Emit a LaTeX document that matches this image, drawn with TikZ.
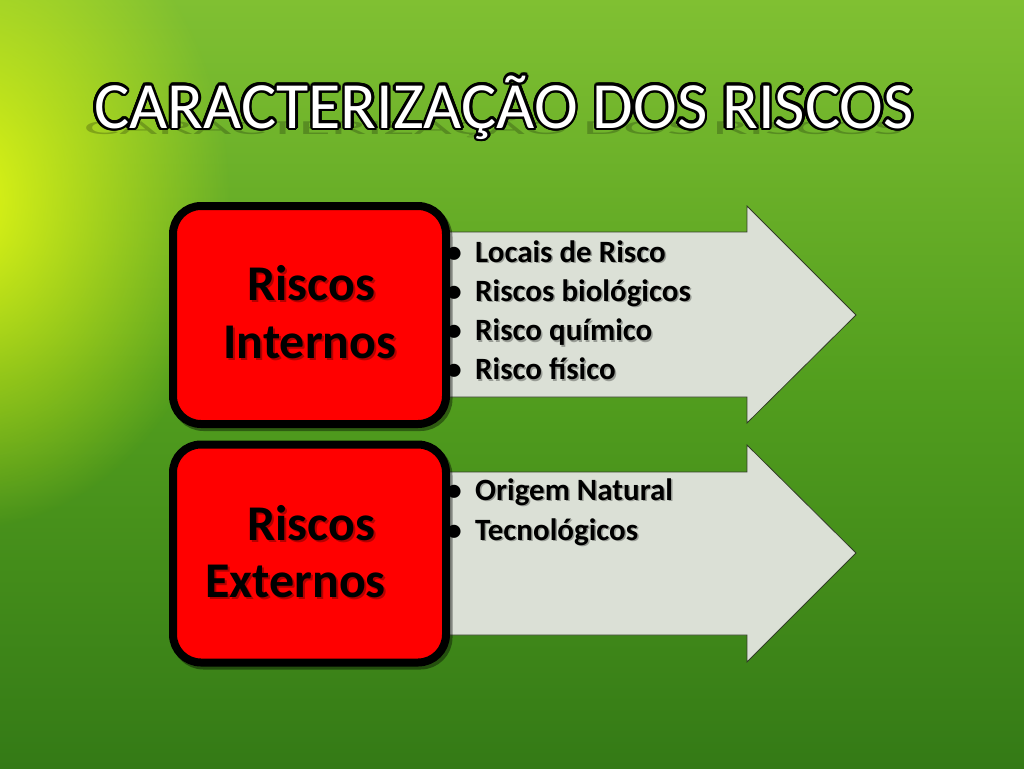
\documentclass[tikz,border=0pt]{standalone}
\usepackage{fontspec}
\setmainfont{Carlito}
\usetikzlibrary{fadings}
\definecolor{bgtop}{RGB}{128,192,50}
\definecolor{bgmid}{RGB}{82,158,30}
\definecolor{bgbot}{RGB}{52,122,22}
\definecolor{glowc}{RGB}{228,248,20}
\definecolor{arrowfill}{RGB}{219,224,214}
\definecolor{arrowline}{RGB}{50,60,40}
\tikzfading[name=glowfade, inner color=transparent!0, outer color=transparent!100]
\tikzset{
  boxst/.style={draw=black, line width=8pt, fill=red, rounded corners=28pt,
    minimum width=273pt, minimum height=218pt, inner sep=0pt},
  arrowst/.style={fill=arrowfill, draw=arrowline, line width=0.8pt, line join=miter},
  boxtxt/.style={font=\fontsize{50}{56}\selectfont\bfseries, inner sep=0pt, anchor=base},
  listtxt/.style={font=\fontsize{31}{36}\selectfont\bfseries, inner sep=0pt, anchor=base west},
  bullettxt/.style={font=\fontsize{31}{36}\selectfont\bfseries, inner sep=0pt, anchor=base},
  shad/.style={opacity=0.3, text=black},
  titletxt/.style={font=\fontsize{66}{70}\selectfont, inner sep=0pt, anchor=base},
}
\begin{document}
\begin{tikzpicture}[x=1pt,y=-1pt]
\useasboundingbox (0,0) rectangle (1024,768);
% background
\begin{scope}
\clip (0,0) rectangle (1024,768);
\shade[top color=bgtop, bottom color=bgbot, middle color=bgmid] (0,0) rectangle (1024,768);
\fill[glowc, path fading=glowfade] (-40,200) ellipse (270 and 330);
\end{scope}
% title
\node[titletxt, text=black, opacity=0.22, yscale=0.3, transform shape] at (494,134) {CARACTERIZAÇÃO DOS RISCOS};
\foreach \a in {0,20,...,340}
  \node[titletxt, text=black, shift={(\a:2.6)}] at (504,128) {CARACTERIZAÇÃO DOS RISCOS};
\node[titletxt, text=white] (title) at (504,128) {CARACTERIZAÇÃO DOS RISCOS};
% arrows
\path[arrowst] (440,232) -- (747,232) -- (747,206) -- (856,315) -- (747,423) -- (747,397) -- (440,397) -- cycle;
\path[arrowst] (440,472) -- (747,472) -- (747,445) -- (856,553) -- (747,662) -- (747,635) -- (440,635) -- cycle;
% boxes
\node[boxst, fill=black, draw=black, opacity=0.4] at (312,318) {};
\node[boxst] (bi) at (309.5,315) {};
\node[boxst, fill=black, draw=black, opacity=0.4] at (312,556.5) {};
\node[boxst] (be) at (309.5,553.5) {};
% box texts
\node[boxtxt, shad] at (313,302) {Riscos};
\node[boxtxt] (ri1) at (311,300) {Riscos};
\node[boxtxt, shad] at (312,360) {Internos};
\node[boxtxt] (ri2) at (310,358) {Internos};
\node[boxtxt, shad] at (313,542) {Riscos};
\node[boxtxt] (re1) at (311,540) {Riscos};
\node[boxtxt, shad, anchor=base west] at (207,599) {Externos};
\node[boxtxt, anchor=base west] (re2) at (205,597) {Externos};
% lists
\foreach \t [count=\i] in {Locais de Risco, Riscos biológicos, Risco químico, Risco físico}{
  \node[bullettxt] at (454, 262+39.3*\i-39.3) {•};
  \node[listtxt, shad] at (476.5, 263.5+39.3*\i-39.3) {\t};
  \node[listtxt] (li\i) at (475, 262+39.3*\i-39.3) {\t};
}
\foreach \t [count=\i] in {Origem Natural, Tecnológicos}{
  \node[bullettxt] at (454, 500+40*\i-40) {•};
  \node[listtxt, shad] at (476.5, 501.5+40*\i-40) {\t};
  \node[listtxt] (le\i) at (475, 500+40*\i-40) {\t};
}
\end{tikzpicture}
\end{document}
